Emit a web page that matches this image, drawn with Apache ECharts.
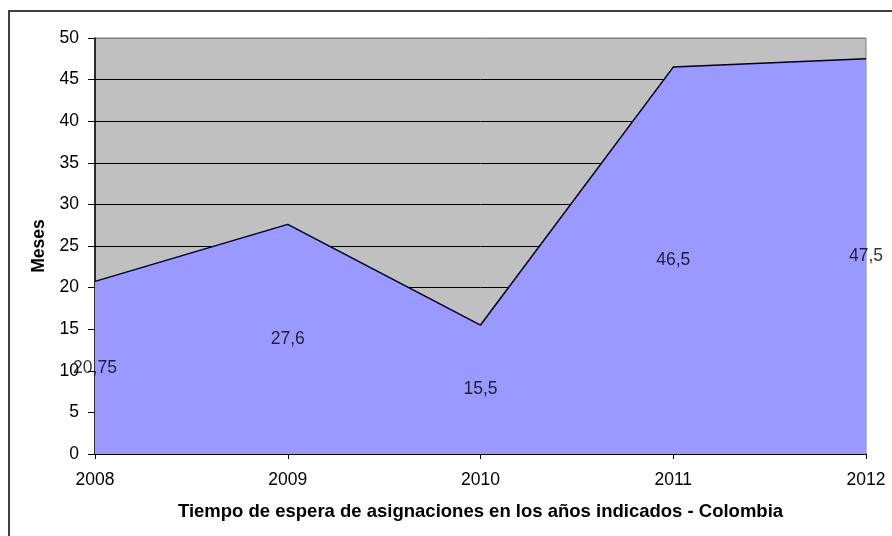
<!DOCTYPE html>
<html><head><meta charset="utf-8">
<script src="https://cdn.jsdelivr.net/npm/echarts@6/dist/echarts.min.js"></script>
<style>html,body{margin:0;padding:0;background:#fff}#c{width:892px;height:536px}</style>
</head><body><div id="c"></div>
<script>
var years = ['2008','2009','2010','2011','2012'];
var values = [20.75, 27.6, 15.5, 46.5, 47.5];
var yTicks = [0,5,10,15,20,25,30,35,40,45,50];
var xTitle = 'Tiempo de espera de asignaciones en los años indicados - Colombia';
var yTitle = 'Meses';

var font = 'Liberation Sans, Arial, sans-serif';
var splitColors = yTicks.map(function(t, i){ return i === yTicks.length - 1 ? '#808080' : '#000'; });
var labelPts = values.map(function(v, i){ return [years[i], v / 2, v]; });

var chart = echarts.init(document.getElementById('c'));
chart.setOption({
  animation: false,
  graphic: [{type:'rect', shape:{x:9,y:11,width:900,height:600}, style:{fill:'none', stroke:'#404040', lineWidth:2}, z:-1}],
  grid: {left:95, right:26, top:38, bottom:82, show:true, backgroundColor:'#C0C0C0', borderColor:'#808080', borderWidth:1},
  xAxis: {
    type:'category', data:years, boundaryGap:false,
    axisLine:{lineStyle:{color:'#000', width:1.5}},
    axisTick:{show:true, length:5, inside:false, lineStyle:{color:'#000'}},
    axisLabel:{color:'#000', fontFamily:font, fontSize:17.5, margin:17},
    name:xTitle, nameLocation:'middle', nameGap:48,
    nameTextStyle:{color:'#000', fontFamily:font, fontSize:18.5, fontWeight:'bold'}
  },
  yAxis: {
    type:'value', min:0, max:50, interval:5,
    axisLine:{show:true, lineStyle:{color:'#000', width:1.5}},
    axisTick:{show:true, length:7, lineStyle:{color:'#000'}},
    axisLabel:{color:'#000', fontFamily:font, fontSize:17.5, margin:16},
    splitLine:{show:true, lineStyle:{color:splitColors, width:1}},
    name:yTitle, nameLocation:'middle', nameGap:46, nameRotate:90,
    nameTextStyle:{color:'#000', fontFamily:font, fontSize:17.5, fontWeight:'bold'}
  },
  series: [{
    type:'line', data:values, symbol:'none',
    lineStyle:{color:'#000', width:1.5},
    areaStyle:{color:'#9999FF', opacity:1},
    z:2
  },{
    type:'scatter', data:labelPts, symbolSize:0,
    label:{show:true, position:'inside', color:'#000', fontFamily:font, fontSize:17.5,
      formatter:function(p){ return String(p.data[2]).replace('.', ','); }},
    z:5
  }]
});
</script></body></html>
